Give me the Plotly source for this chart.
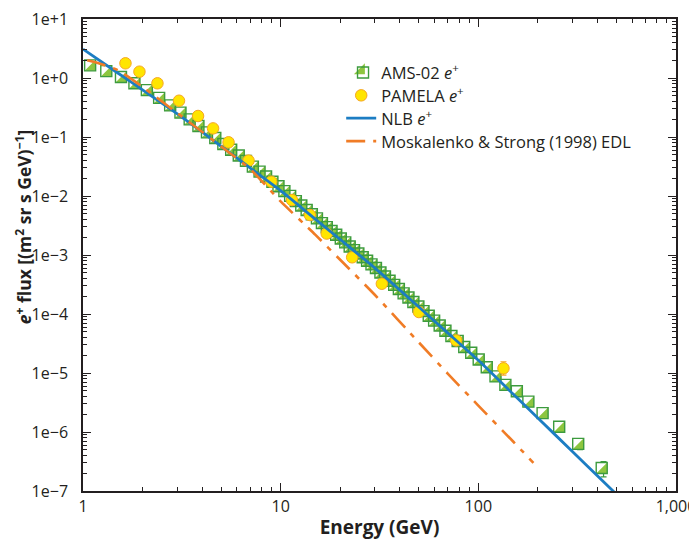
import plotly.graph_objects as go

# ---------------- data ----------------
ams_E = [1.11, 1.34, 1.59, 1.86, 2.15, 2.48, 2.82, 3.18, 3.54, 3.92, 4.33, 4.77,
         5.24, 5.74, 6.27, 6.82, 7.39, 7.99, 8.62, 9.28, 9.96, 10.67, 11.41, 12.19,
         12.99, 13.83, 14.69, 15.59, 16.52, 17.48, 18.48, 19.51, 20.58, 21.68, 22.83,
         24.01, 25.25, 26.57, 27.96, 29.43, 31.0, 32.66, 34.43, 36.32, 38.34, 40.48,
         42.79, 45.27, 47.93, 50.81, 53.93, 57.33, 61.04, 65.13, 69.64, 74.66, 80.31,
         86.71, 94.05, 102.6, 112.7, 124.8, 140.0, 160.0, 183.0, 216.0, 262.0, 327.0, 430.0]
ams_F = [1.64, 1.31, 1.04, 0.813, 0.624, 0.460, 0.343, 0.259, 0.199, 0.154, 0.120, 0.0964,
         0.0762, 0.0607, 0.0486, 0.0394, 0.0315, 0.0259, 0.0214, 0.0174, 0.0146, 0.0121,
         0.01005, 8.18e-3, 6.89e-3, 5.79e-3, 4.91e-3, 4.17e-3, 3.47e-3, 2.97e-3, 2.55e-3,
         2.20e-3, 1.90e-3, 1.64e-3, 1.39e-3, 1.21e-3, 1.06e-3, 9.18e-4, 7.98e-4, 6.93e-4,
         6.01e-4, 5.05e-4, 4.31e-4, 3.67e-4, 3.12e-4, 2.65e-4, 2.24e-4, 1.90e-4, 1.60e-4,
         1.34e-4, 1.12e-4, 9.33e-5, 7.73e-5, 6.37e-5, 5.21e-5, 4.23e-5, 3.48e-5, 2.76e-5,
         2.21e-5, 1.69e-5, 1.25e-5, 8.75e-6, 6.3e-6, 4.9e-6, 3.27e-6, 2.09e-6, 1.23e-6,
         6.3e-7, 2.45e-7]
ams_rel_err = [0.03] * 56 + [0.05, 0.05, 0.06, 0.06, 0.07, 0.08, 0.09, 0.10, 0.12, 0.14,
                             0.17, 0.20, 0.29]

pam_E = [1.64, 1.93, 2.38, 3.06, 3.82, 4.55, 5.45, 6.88, 8.96, 11.4, 14.05, 17.1,
         23.0, 32.5, 50.0, 77.3, 134.0]
pam_F = [1.775, 1.28, 0.813, 0.412, 0.227, 0.140, 0.0813, 0.0398, 0.0175, 8.55e-3,
         4.76e-3, 2.31e-3, 9.14e-4, 3.26e-4, 1.08e-4, 3.57e-5, 1.2e-5]
pam_err_up = [0.0] * 16 + [3.5e-6]
pam_err_dn = [0.0] * 16 + [2.8e-6]

nlb_E = [1, 1.5, 2, 3, 4, 5, 7, 10, 15, 20, 30, 40, 50, 70, 100, 150, 200, 300, 400, 500]
nlb_F = [3.09, 1.216, 0.628, 0.247, 0.1216, 0.0696, 0.0300, 0.0123, 4.03e-3, 1.83e-3,
         6.0e-4, 2.56e-4, 1.31e-4, 4.79e-5, 1.64e-5, 4.39e-6, 1.73e-6, 4.62e-7,
         1.81e-7, 8.78e-8]

ms_E = [1.05, 1.2, 1.5, 2, 3, 4, 5, 7, 10, 15, 20, 30, 50, 70, 100, 150, 190]
ms_F = [2.0, 1.78, 1.36, 0.708, 0.254, 0.123, 0.0692, 0.0288, 8.1e-3, 2.19e-3,
        8.3e-4, 2.1e-4, 3.3e-5, 9.8e-6, 2.8e-6, 6.9e-7, 3.0e-7]

y_tickvals = [1e-7, 1e-6, 1e-5, 1e-4, 1e-3, 1e-2, 1e-1, 1e0, 1e1]
y_ticktext = ["1e\u22127", "1e\u22126", "1e\u22125", "1e\u22124", "1e\u22123",
              "1e\u22122", "1e\u22121", "1e+0", "1e+1"]
x_tickvals = [1, 10, 100, 1000]
x_ticktext = ["1", "10", "100", "1,000"]

# ---------------- styles ----------------
FONT = "Open Sans"
INK = "#231F20"
GREEN_EDGE = "#3C9B3E"
GREEN_FILL = "#8DC63F"
YELLOW = "#FFE500"
YELLOW_EDGE = "#F6A623"
BLUE = "#1C7DC3"
ORANGE = "#F07C26"

SQ = 11.0                 # square marker size
TRI = SQ * 2 / 1.8        # triangle-se size so that its legs equal the square side
SHIFT = SQ / 2 / 3        # offset that puts the triangle's right angle on the square corner

minor_x = [m * 10 ** d for d in range(0, 3) for m in range(2, 10)]
minor_y = [m * 10.0 ** d for d in range(-7, 1) for m in range(2, 10)]

fig = go.Figure()

ams_name = "AMS-02 <i>e</i><sup>+</sup>"

# AMS-02 error bars (not in legend)
fig.add_trace(go.Scatter(
    x=ams_E, y=ams_F, mode="markers", showlegend=False, hoverinfo="skip",
    error_y=dict(type="data", array=[f * r for f, r in zip(ams_F, ams_rel_err)],
                 color=GREEN_EDGE, thickness=1.2, width=3),
    marker=dict(size=SQ, color="rgba(0,0,0,0)"),
))
# AMS-02: white square base
fig.add_trace(go.Scatter(
    x=ams_E, y=ams_F, mode="markers", name=ams_name, legend="legend",
    marker=dict(symbol="square", size=SQ, color="white", angle=90, standoff=SHIFT,
                line=dict(width=0)),
))
# AMS-02: green lower-right half
fig.add_trace(go.Scatter(
    x=ams_E, y=ams_F, mode="markers", name=ams_name, legend="legend2",
    marker=dict(symbol="triangle-se", size=TRI, color=GREEN_FILL, standoff=SHIFT,
                line=dict(width=0)),
))
# AMS-02: outline
fig.add_trace(go.Scatter(
    x=ams_E, y=ams_F, mode="markers", name=ams_name, legend="legend3",
    marker=dict(symbol="square-open", size=SQ, color=GREEN_EDGE, angle=90,
                standoff=SHIFT, line=dict(width=1.4, color=GREEN_EDGE)),
))

# PAMELA error bars (not in legend)
fig.add_trace(go.Scatter(
    x=pam_E, y=pam_F, mode="markers", showlegend=False, hoverinfo="skip",
    error_y=dict(type="data", array=pam_err_up, arrayminus=pam_err_dn,
                 color=YELLOW_EDGE, thickness=1.2, width=3),
    marker=dict(size=11.5, color="rgba(0,0,0,0)"),
))
fig.add_trace(go.Scatter(
    x=pam_E, y=pam_F, mode="markers", name="PAMELA <i>e</i><sup>+</sup>",
    legend="legend4",
    marker=dict(symbol="circle", size=11.5, color=YELLOW,
                line=dict(width=1, color=YELLOW_EDGE)),
))

fig.add_trace(go.Scatter(
    x=nlb_E, y=nlb_F, mode="lines", name="NLB <i>e</i><sup>+</sup>",
    legend="legend5",
    line=dict(color=BLUE, width=2.8, shape="spline", smoothing=0.6),
))

fig.add_trace(go.Scatter(
    x=ms_E, y=ms_F, mode="lines", name="Moskalenko &amp; Strong (1998) EDL",
    legend="legend6",
    line=dict(color=ORANGE, width=2.6, dash="19px,8px,5px,8px", shape="spline",
              smoothing=0.6),
))

axis_common = dict(
    type="log", showgrid=False, zeroline=False, showline=True, linecolor=INK,
    linewidth=1.5, mirror="allticks", ticks="inside", ticklen=8, tickwidth=1.2,
    tickcolor=INK, tickfont=dict(family=FONT, size=16, color=INK), automargin=False,
    ticklabeloverflow="allow",
)

fig.update_xaxes(
    **axis_common, range=[0, 3], tickvals=x_tickvals, ticktext=x_ticktext,
    ticklabelstandoff=0,
    minor=dict(tickvals=minor_x, ticks="inside", ticklen=4.5, tickwidth=1,
               tickcolor=INK),
    title=dict(text="<b>Energy (GeV)</b>", font=dict(family=FONT, size=19, color=INK),
               standoff=5),
)
fig.update_yaxes(
    **axis_common, range=[-7, 1.0001], tickvals=y_tickvals, ticktext=y_ticktext,
    ticklabelstandoff=10,
    minor=dict(tickvals=minor_y, ticks="inside", ticklen=4.5, tickwidth=1,
               tickcolor=INK),
)

fig.add_annotation(
    text="<b><i>e</i><sup>+</sup> flux [(m<sup>2</sup> sr s GeV)<sup>\u22121</sup>]</b>",
    xref="paper", yref="paper", x=-0.101, y=0.559, xanchor="center", yanchor="middle",
    textangle=-90, showarrow=False, font=dict(family=FONT, size=17.5, color=INK),
)

# legend rows: one legend per row so the row spacing matches the reference
LEG_X = 0.4354
ROW_Y = [0.8862, 0.8377, 0.7892, 0.7407]


def leg(y, color=INK):
    return dict(x=LEG_X, y=y, xanchor="left", yanchor="middle",
                bgcolor="rgba(0,0,0,0)", borderwidth=0, itemsizing="trace",
                font=dict(family=FONT, size=16.5, color=color))


# The page adds an 8 px body margin, so the figure is 8 px smaller and its
# left/top margins 8 px narrower to keep the plot area where the reference has it.
fig.update_layout(
    width=689, height=532,
    margin=dict(l=75, r=21, t=11, b=49, autoexpand=False),
    paper_bgcolor="white", plot_bgcolor="white",
    font=dict(family=FONT, size=16, color=INK),
    legend=leg(ROW_Y[0]),
    legend2=leg(ROW_Y[0], "rgba(0,0,0,0)"),
    legend3=leg(ROW_Y[0], "rgba(0,0,0,0)"),
    legend4=leg(ROW_Y[1]),
    legend5=leg(ROW_Y[2]),
    legend6=leg(ROW_Y[3]),
    showlegend=True,
)

fig.write_html("out.html")
